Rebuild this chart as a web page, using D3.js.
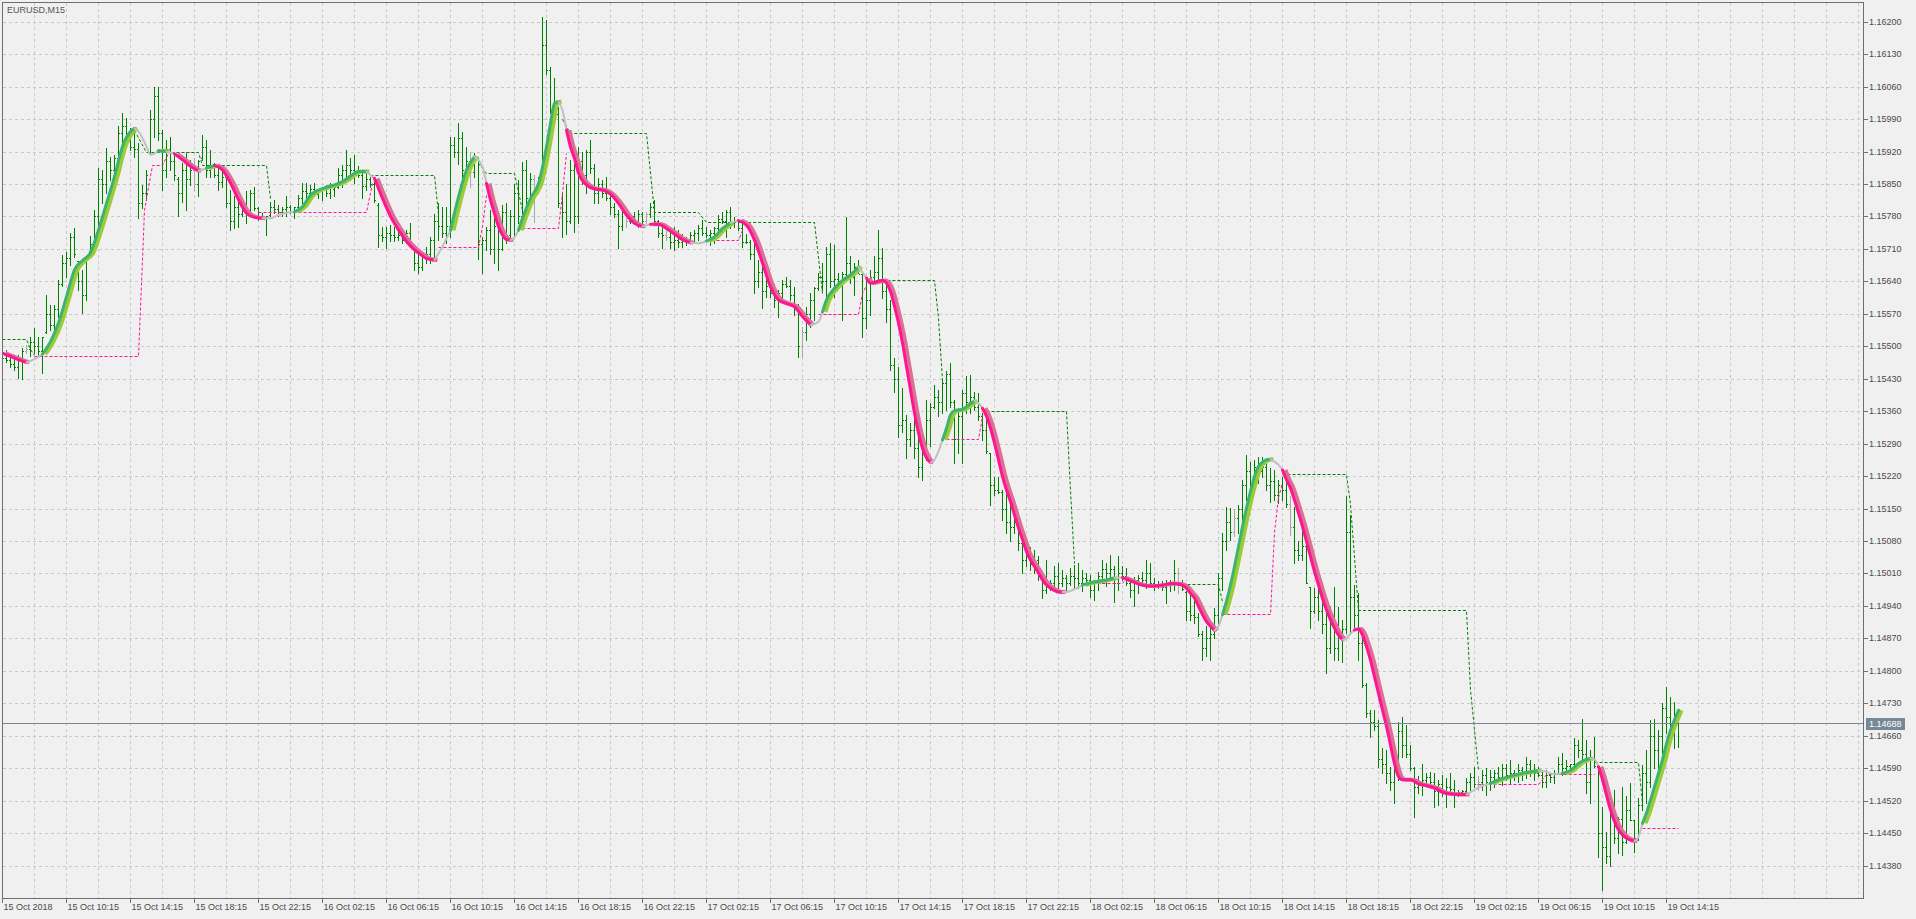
<!DOCTYPE html>
<html>
<head>
<meta charset="utf-8">
<title>EURUSD,M15</title>
<script src="https://cdn.jsdelivr.net/npm/d3@7/dist/d3.min.js"></script>
<style>
html,body{margin:0;padding:0;background:#f0f0f0;overflow:hidden;}
svg{display:block;}
</style>
</head>
<body>
<svg id="chart" width="1916" height="919"></svg>
<script>
const chartTitle = "EURUSD,M15";
const lastPrice = 1.14688;
const priceTicks = [1.14380,1.14450,1.14520,1.14590,1.14660,1.14730,1.14800,1.14870,1.14940,1.15010,1.15080,1.15150,1.15220,1.15290,1.15360,1.15430,1.15500,1.15570,1.15640,1.15710,1.15780,1.15850,1.15920,1.15990,1.16060,1.16130,1.16200];
const timeBars = [0,16,32,48,64,80,96,112,128,144,160,176,192,208,224,240,256,272,288,304,320,336,352,368,384,400,416];
const timeLabels = ["15 Oct 2018","15 Oct 10:15","15 Oct 14:15","15 Oct 18:15","15 Oct 22:15","16 Oct 02:15","16 Oct 06:15","16 Oct 10:15","16 Oct 14:15","16 Oct 18:15","16 Oct 22:15","17 Oct 02:15","17 Oct 06:15","17 Oct 10:15","17 Oct 14:15","17 Oct 18:15","17 Oct 22:15","18 Oct 02:15","18 Oct 06:15","18 Oct 10:15","18 Oct 14:15","18 Oct 18:15","18 Oct 22:15","19 Oct 02:15","19 Oct 06:15","19 Oct 10:15","19 Oct 14:15"];

const high = [
1.15488,1.15492,1.15481,1.15478,1.15481,1.15496,1.15503,1.15521,1.15539,1.15521,
1.15521,1.15611,1.15589,1.15589,1.15643,1.15697,1.15704,1.15744,1.15754,1.15683,
1.15665,1.15693,1.15737,1.15794,1.15884,1.15880,1.15927,1.15909,1.15913,1.15974,
1.16003,1.15992,1.15970,1.15967,1.15938,1.15848,1.15880,1.16010,1.16060,1.16060,
1.15967,1.15945,1.15952,1.15920,1.15866,1.15895,1.15916,1.15902,1.15905,1.15902,
1.15956,1.15945,1.15923,1.15895,1.15891,1.15880,1.15873,1.15837,1.15823,1.15823,
1.15808,1.15834,1.15837,1.15844,1.15801,1.15787,1.15780,1.15812,1.15816,1.15805,
1.15801,1.15823,1.15805,1.15801,1.15826,1.15852,1.15852,1.15848,1.15852,1.15837,
1.15844,1.15848,1.15852,1.15844,1.15884,1.15891,1.15923,1.15905,1.15913,1.15888,
1.15880,1.15880,1.15866,1.15866,1.15808,1.15758,1.15758,1.15762,1.15758,1.15751,
1.15751,1.15751,1.15765,1.15715,1.15708,1.15704,1.15715,1.15736,1.15786,1.15808,
1.15801,1.15801,1.15952,1.15952,1.15981,1.15963,1.15930,1.15919,1.15916,1.15909,
1.15736,1.15758,1.15794,1.15779,1.15772,1.15804,1.15808,1.15794,1.15851,1.15858,
1.15898,1.15901,1.15873,1.15869,1.15866,1.16211,1.16203,1.16103,1.16078,1.16017,
1.15830,1.15851,1.15901,1.15894,1.15930,1.15919,1.15923,1.15945,1.15894,1.15862,
1.15858,1.15866,1.15830,1.15808,1.15794,1.15808,1.15794,1.15786,1.15790,1.15794,
1.15790,1.15790,1.15808,1.15815,1.15772,1.15765,1.15758,1.15758,1.15758,1.15750,
1.15743,1.15736,1.15747,1.15750,1.15761,1.15772,1.15758,1.15750,1.15758,1.15783,
1.15790,1.15794,1.15801,1.15779,1.15772,1.15765,1.15743,1.15729,1.15722,1.15686,
1.15679,1.15679,1.15650,1.15635,1.15621,1.15643,1.15650,1.15643,1.15628,1.15592,
1.15542,1.15585,1.15614,1.15628,1.15657,1.15679,1.15715,1.15722,1.15718,1.15657,
1.15660,1.15778,1.15694,1.15679,1.15686,1.15658,1.15643,1.15665,1.15694,1.15751,
1.15712,1.15636,1.15600,1.15474,1.15456,1.15410,1.15352,1.15334,1.15356,1.15341,
1.15320,1.15384,1.15377,1.15417,1.15406,1.15428,1.15446,1.15464,1.15384,1.15363,
1.15406,1.15435,1.15438,1.15402,1.15399,1.15356,1.15349,1.15269,1.15219,1.15219,
1.15190,1.15219,1.15183,1.15147,1.15140,1.15082,1.15068,1.15068,1.15061,1.15047,
1.15011,1.15039,1.14996,1.15025,1.15032,1.15018,1.15007,1.15021,1.15029,1.15032,
1.15018,1.15011,1.15007,1.14996,1.15014,1.15039,1.15032,1.15050,1.15025,1.15047,
1.15025,1.15021,1.14996,1.15003,1.15007,1.15014,1.15039,1.15032,1.15000,1.14993,
1.14993,1.14996,1.14996,1.15039,1.15021,1.14996,1.14971,1.14967,1.14960,1.14924,
1.14885,1.14896,1.14903,1.14935,1.15011,1.15097,1.15154,1.15151,1.15147,1.15158,
1.15212,1.15266,1.15251,1.15255,1.15262,1.15262,1.15255,1.15237,1.15233,1.15212,
1.15219,1.15226,1.15176,1.15154,1.15079,1.15104,1.15082,1.14981,1.14978,1.14996,
1.14967,1.14953,1.14938,1.14981,1.14938,1.14910,1.15176,1.15136,1.14985,1.14967,
1.14874,1.14773,1.14716,1.14716,1.14694,1.14633,1.14629,1.14593,1.14622,1.14690,
1.14701,1.14683,1.14640,1.14593,1.14572,1.14600,1.14579,1.14582,1.14579,1.14564,
1.14575,1.14568,1.14579,1.14564,1.14543,1.14543,1.14568,1.14579,1.14593,1.14572,
1.14586,1.14590,1.14586,1.14586,1.14593,1.14600,1.14600,1.14608,1.14586,1.14600,
1.14593,1.14615,1.14608,1.14600,1.14593,1.14586,1.14586,1.14579,1.14586,1.14615,
1.14622,1.14608,1.14600,1.14654,1.14651,1.14697,1.14651,1.14629,1.14658,1.14593,
1.14507,1.14453,1.14521,1.14543,1.14485,1.14550,1.14529,1.14557,1.14478,1.14525,
1.14597,1.14629,1.14694,1.14697,1.14672,1.14730,1.14766,1.14744,1.14733,1.14715];

const low = [
1.15463,1.15467,1.15456,1.15449,1.15431,1.15429,1.15485,1.15478,1.15485,1.15478,
1.15442,1.15528,1.15535,1.15528,1.15564,1.15629,1.15650,1.15675,1.15693,1.15621,
1.15571,1.15600,1.15704,1.15708,1.15751,1.15808,1.15830,1.15859,1.15859,1.15895,
1.15923,1.15931,1.15923,1.15909,1.15776,1.15798,1.15816,1.15916,1.15952,1.15945,
1.15837,1.15866,1.15880,1.15859,1.15780,1.15812,1.15794,1.15848,1.15837,1.15823,
1.15902,1.15866,1.15866,1.15866,1.15837,1.15844,1.15801,1.15751,1.15754,1.15758,
1.15780,1.15765,1.15780,1.15794,1.15772,1.15776,1.15740,1.15780,1.15787,1.15780,
1.15780,1.15780,1.15787,1.15776,1.15794,1.15808,1.15816,1.15816,1.15823,1.15819,
1.15816,1.15823,1.15819,1.15823,1.15841,1.15844,1.15859,1.15859,1.15852,1.15866,
1.15819,1.15837,1.15844,1.15812,1.15715,1.15726,1.15711,1.15726,1.15726,1.15729,
1.15722,1.15722,1.15715,1.15665,1.15657,1.15665,1.15679,1.15679,1.15686,1.15729,
1.15736,1.15722,1.15736,1.15909,1.15894,1.15866,1.15851,1.15844,1.15866,1.15689,
1.15657,1.15707,1.15700,1.15679,1.15664,1.15707,1.15722,1.15729,1.15736,1.15765,
1.15779,1.15794,1.15801,1.15768,1.15830,1.15866,1.16088,1.16002,1.15988,1.15801,
1.15736,1.15743,1.15765,1.15747,1.15765,1.15851,1.15830,1.15873,1.15808,1.15808,
1.15822,1.15815,1.15786,1.15779,1.15711,1.15750,1.15758,1.15765,1.15765,1.15758,
1.15765,1.15765,1.15779,1.15765,1.15736,1.15711,1.15729,1.15711,1.15707,1.15715,
1.15715,1.15718,1.15722,1.15722,1.15729,1.15740,1.15736,1.15718,1.15722,1.15750,
1.15765,1.15736,1.15754,1.15758,1.15750,1.15715,1.15722,1.15689,1.15614,1.15628,
1.15582,1.15607,1.15607,1.15585,1.15564,1.15600,1.15628,1.15600,1.15567,1.15477,
1.15477,1.15513,1.15542,1.15556,1.15621,1.15621,1.15607,1.15628,1.15607,1.15628,
1.15556,1.15650,1.15636,1.15611,1.15658,1.15521,1.15539,1.15568,1.15643,1.15636,
1.15604,1.15553,1.15449,1.15402,1.15305,1.15316,1.15259,1.15284,1.15259,1.15219,
1.15212,1.15255,1.15284,1.15366,1.15349,1.15356,1.15363,1.15370,1.15248,1.15269,
1.15248,1.15356,1.15356,1.15363,1.15341,1.15298,1.15269,1.15158,1.15180,1.15183,
1.15126,1.15097,1.15079,1.15097,1.15061,1.15011,1.15025,1.15018,1.15011,1.14996,
1.14957,1.14967,1.14975,1.14978,1.14971,1.14982,1.14975,1.14985,1.14978,1.14978,
1.14971,1.14989,1.14960,1.14953,1.14975,1.14989,1.14982,1.15003,1.14949,1.14975,
1.14996,1.14985,1.14960,1.14939,1.14967,1.14989,1.14978,1.14982,1.14975,1.14978,
1.14975,1.14946,1.14971,1.14975,1.14967,1.14975,1.14910,1.14910,1.14903,1.14874,
1.14824,1.14831,1.14824,1.14870,1.14896,1.14975,1.15061,1.15082,1.15090,1.15097,
1.15097,1.15169,1.15183,1.15183,1.15205,1.15219,1.15190,1.15165,1.15168,1.15161,
1.15168,1.15154,1.15093,1.15032,1.15039,1.15039,1.14989,1.14892,1.14924,1.14910,
1.14881,1.14795,1.14838,1.14823,1.14823,1.14820,1.14881,1.14881,1.14895,1.14823,
1.14766,1.14701,1.14658,1.14672,1.14593,1.14579,1.14557,1.14543,1.14514,1.14564,
1.14615,1.14615,1.14586,1.14485,1.14536,1.14532,1.14557,1.14550,1.14507,1.14511,
1.14529,1.14507,1.14536,1.14507,1.14529,1.14532,1.14532,1.14543,1.14550,1.14543,
1.14543,1.14532,1.14543,1.14550,1.14561,1.14554,1.14564,1.14557,1.14564,1.14561,
1.14564,1.14568,1.14572,1.14564,1.14572,1.14550,1.14550,1.14561,1.14557,1.14579,
1.14575,1.14579,1.14579,1.14593,1.14615,1.14600,1.14536,1.14514,1.14593,1.14399,
1.14327,1.14385,1.14378,1.14428,1.14406,1.14403,1.14428,1.14478,1.14410,1.14435,
1.14500,1.14514,1.14550,1.14590,1.14586,1.14622,1.14665,1.14651,1.14633,1.14636];

const open = [
1.15470,1.15475,1.15470,1.15462,1.15455,1.15470,1.15490,1.15495,1.15510,1.15500,
1.15490,1.15530,1.15570,1.15545,1.15580,1.15635,1.15680,1.15690,1.15735,1.15683,
1.15640,1.15610,1.15705,1.15720,1.15780,1.15860,1.15850,1.15900,1.15880,1.15905,
1.15960,1.15975,1.15950,1.15930,1.15925,1.15810,1.15830,1.15920,1.15990,1.16040,
1.15960,1.15880,1.15925,1.15900,1.15860,1.15830,1.15880,1.15860,1.15880,1.15850,
1.15905,1.15930,1.15880,1.15890,1.15870,1.15855,1.15865,1.15810,1.15770,1.15800,
1.15785,1.15800,1.15790,1.15830,1.15798,1.15780,1.15778,1.15782,1.15800,1.15795,
1.15790,1.15795,1.15800,1.15790,1.15800,1.15820,1.15835,1.15830,1.15840,1.15828,
1.15835,1.15840,1.15830,1.15840,1.15843,1.15870,1.15880,1.15890,1.15880,1.15875,
1.15870,1.15845,1.15860,1.15850,1.15805,1.15740,1.15735,1.15745,1.15740,1.15735,
1.15740,1.15730,1.15745,1.15712,1.15680,1.15670,1.15695,1.15700,1.15730,1.15770,
1.15760,1.15745,1.15760,1.15935,1.15920,1.15950,1.15880,1.15900,1.15875,1.15905,
1.15720,1.15730,1.15750,1.15710,1.15760,1.15710,1.15790,1.15740,1.15780,1.15830,
1.15780,1.15880,1.15820,1.15860,1.15840,1.15870,1.16150,1.16095,1.16010,1.16000,
1.15810,1.15790,1.15770,1.15880,1.15780,1.15900,1.15870,1.15920,1.15885,1.15830,
1.15850,1.15830,1.15820,1.15800,1.15785,1.15760,1.15790,1.15770,1.15780,1.15770,
1.15785,1.15770,1.15785,1.15800,1.15770,1.15745,1.15740,1.15735,1.15725,1.15730,
1.15725,1.15730,1.15728,1.15740,1.15745,1.15755,1.15745,1.15740,1.15745,1.15755,
1.15775,1.15770,1.15790,1.15765,1.15770,1.15755,1.15725,1.15725,1.15700,1.15640,
1.15660,1.15620,1.15630,1.15615,1.15600,1.15615,1.15635,1.15630,1.15610,1.15580,
1.15500,1.15530,1.15570,1.15600,1.15625,1.15650,1.15640,1.15700,1.15640,1.15645,
1.15640,1.15655,1.15680,1.15650,1.15670,1.15655,1.15560,1.15600,1.15650,1.15660,
1.15690,1.15620,1.15580,1.15460,1.15430,1.15330,1.15340,1.15300,1.15320,1.15280,
1.15240,1.15290,1.15340,1.15370,1.15390,1.15380,1.15420,1.15440,1.15380,1.15300,
1.15350,1.15400,1.15380,1.15390,1.15370,1.15350,1.15320,1.15269,1.15200,1.15190,
1.15185,1.15150,1.15120,1.15110,1.15120,1.15075,1.15040,1.15050,1.15030,1.15040,
1.15005,1.14975,1.14985,1.14990,1.15005,1.14990,1.15000,1.14990,1.15005,1.15000,
1.14990,1.15000,1.14995,1.14975,1.14990,1.15005,1.15020,1.15010,1.15020,1.14990,
1.15010,1.15005,1.14990,1.14975,1.14995,1.15000,1.14995,1.15010,1.14990,1.14985,
1.14985,1.14980,1.14985,1.14990,1.15010,1.14985,1.14970,1.14930,1.14920,1.14915,
1.14880,1.14850,1.14870,1.14880,1.14920,1.15000,1.15080,1.15120,1.15100,1.15130,
1.15150,1.15200,1.15230,1.15200,1.15240,1.15230,1.15240,1.15200,1.15210,1.15180,
1.15200,1.15190,1.15160,1.15110,1.15060,1.15050,1.15070,1.14981,1.14930,1.14960,
1.14930,1.14900,1.14850,1.14900,1.14850,1.14880,1.14890,1.15100,1.14960,1.14920,
1.14860,1.14770,1.14710,1.14690,1.14680,1.14610,1.14600,1.14580,1.14560,1.14600,
1.14670,1.14640,1.14620,1.14590,1.14550,1.14560,1.14565,1.14570,1.14560,1.14540,
1.14555,1.14540,1.14550,1.14545,1.14535,1.14538,1.14540,1.14560,1.14570,1.14555,
1.14560,1.14575,1.14560,1.14570,1.14580,1.14570,1.14590,1.14575,1.14580,1.14575,
1.14585,1.14580,1.14600,1.14585,1.14580,1.14575,1.14560,1.14575,1.14570,1.14580,
1.14600,1.14590,1.14595,1.14598,1.14640,1.14630,1.14620,1.14560,1.14610,1.14592,
1.14450,1.14420,1.14400,1.14500,1.14440,1.14480,1.14430,1.14500,1.14478,1.14440,
1.14510,1.14580,1.14560,1.14660,1.14630,1.14660,1.14720,1.14700,1.14680,1.14700];

const close = [
1.15475,1.15470,1.15462,1.15455,1.15470,1.15490,1.15495,1.15510,1.15500,1.15490,
1.15520,1.15570,1.15545,1.15580,1.15635,1.15680,1.15690,1.15735,1.15700,1.15640,
1.15610,1.15690,1.15720,1.15780,1.15860,1.15850,1.15900,1.15880,1.15905,1.15960,
1.15975,1.15950,1.15930,1.15925,1.15810,1.15830,1.15870,1.15990,1.16040,1.15960,
1.15880,1.15925,1.15900,1.15870,1.15830,1.15880,1.15860,1.15880,1.15850,1.15900,
1.15930,1.15880,1.15890,1.15870,1.15855,1.15865,1.15810,1.15770,1.15800,1.15785,
1.15800,1.15790,1.15830,1.15798,1.15780,1.15778,1.15780,1.15800,1.15795,1.15790,
1.15795,1.15800,1.15790,1.15800,1.15820,1.15835,1.15830,1.15840,1.15828,1.15835,
1.15840,1.15830,1.15845,1.15843,1.15870,1.15880,1.15890,1.15880,1.15875,1.15870,
1.15845,1.15860,1.15850,1.15815,1.15740,1.15735,1.15745,1.15740,1.15735,1.15740,
1.15730,1.15745,1.15715,1.15680,1.15670,1.15695,1.15700,1.15730,1.15770,1.15760,
1.15745,1.15760,1.15935,1.15920,1.15950,1.15880,1.15900,1.15875,1.15905,1.15720,
1.15730,1.15750,1.15710,1.15760,1.15710,1.15790,1.15740,1.15780,1.15830,1.15780,
1.15880,1.15820,1.15860,1.15840,1.15860,1.16150,1.16095,1.16010,1.16000,1.15810,
1.15790,1.15770,1.15880,1.15780,1.15900,1.15870,1.15920,1.15885,1.15830,1.15850,
1.15830,1.15820,1.15800,1.15785,1.15760,1.15790,1.15770,1.15780,1.15770,1.15785,
1.15770,1.15785,1.15800,1.15770,1.15745,1.15740,1.15735,1.15725,1.15730,1.15725,
1.15730,1.15728,1.15740,1.15745,1.15755,1.15745,1.15740,1.15745,1.15755,1.15775,
1.15770,1.15790,1.15765,1.15770,1.15755,1.15725,1.15725,1.15700,1.15640,1.15660,
1.15620,1.15630,1.15615,1.15600,1.15615,1.15635,1.15630,1.15610,1.15580,1.15500,
1.15530,1.15570,1.15600,1.15625,1.15650,1.15640,1.15700,1.15640,1.15645,1.15640,
1.15655,1.15680,1.15650,1.15670,1.15655,1.15560,1.15600,1.15650,1.15660,1.15690,
1.15620,1.15580,1.15460,1.15430,1.15330,1.15340,1.15300,1.15320,1.15280,1.15240,
1.15290,1.15340,1.15370,1.15390,1.15380,1.15420,1.15440,1.15380,1.15300,1.15350,
1.15400,1.15380,1.15390,1.15370,1.15350,1.15320,1.15275,1.15200,1.15190,1.15185,
1.15150,1.15120,1.15110,1.15120,1.15075,1.15040,1.15050,1.15030,1.15040,1.15005,
1.14975,1.14985,1.14990,1.15005,1.14990,1.15000,1.14990,1.15005,1.15000,1.14990,
1.15000,1.14995,1.14975,1.14990,1.15005,1.15020,1.15010,1.15020,1.14990,1.15010,
1.15005,1.14990,1.14975,1.14995,1.15000,1.14995,1.15010,1.14990,1.14985,1.14985,
1.14980,1.14985,1.14990,1.15010,1.14985,1.14976,1.14930,1.14920,1.14915,1.14880,
1.14850,1.14870,1.14880,1.14920,1.15000,1.15080,1.15120,1.15100,1.15130,1.15150,
1.15200,1.15230,1.15200,1.15240,1.15230,1.15240,1.15200,1.15210,1.15180,1.15200,
1.15190,1.15160,1.15110,1.15060,1.15050,1.15070,1.14990,1.14930,1.14960,1.14930,
1.14900,1.14850,1.14900,1.14850,1.14880,1.14890,1.15100,1.14960,1.14920,1.14860,
1.14770,1.14710,1.14690,1.14680,1.14610,1.14600,1.14580,1.14560,1.14600,1.14670,
1.14640,1.14620,1.14590,1.14550,1.14560,1.14565,1.14570,1.14560,1.14540,1.14555,
1.14540,1.14550,1.14545,1.14535,1.14538,1.14540,1.14560,1.14570,1.14555,1.14560,
1.14575,1.14560,1.14570,1.14580,1.14570,1.14590,1.14575,1.14580,1.14575,1.14585,
1.14580,1.14600,1.14585,1.14580,1.14575,1.14560,1.14575,1.14570,1.14580,1.14600,
1.14590,1.14595,1.14598,1.14640,1.14630,1.14620,1.14560,1.14610,1.14595,1.14450,
1.14420,1.14400,1.14500,1.14440,1.14480,1.14430,1.14500,1.14478,1.14440,1.14510,
1.14580,1.14560,1.14660,1.14630,1.14660,1.14720,1.14700,1.14680,1.14700,1.14688];

const grayBars = [6,48,117,133,156,161,166,200,294,308,322,369];

// smoothed trend line: [bar, price, trend] (u = up, d = down, n = neutral)
const maLine = [
[0,1.15485,"d"],[2,1.15478,"d"],[4,1.15471,"d"],[6,1.15465,"n"],[8,1.15472,"n"],[10,1.15483,"u"],[12,1.15510,"u"],[14,1.15550,"u"],[16,1.15607,"u"],[18,1.15665,"u"],
[20,1.15685,"u"],[22,1.15702,"u"],[24,1.15751,"u"],[26,1.15808,"u"],[28,1.15866,"u"],[30,1.15931,"u"],[32,1.15963,"u"],[33,1.15970,"n"],[34,1.15963,"n"],[36,1.15931,"n"],
[37,1.15913,"n"],[39,1.15922,"u"],[41,1.15920,"n"],[43,1.15915,"d"],[45,1.15902,"d"],[47,1.15888,"d"],[49,1.15878,"n"],[51,1.15884,"u"],[53,1.15890,"d"],[55,1.15880,"d"],
[57,1.15852,"d"],[59,1.15816,"d"],[61,1.15787,"d"],[63,1.15778,"d"],[65,1.15776,"n"],[67,1.15776,"n"],[69,1.15783,"n"],[71,1.15788,"n"],[73,1.15790,"u"],[75,1.15801,"u"],
[77,1.15826,"u"],[79,1.15837,"u"],[81,1.15843,"u"],[83,1.15848,"u"],[85,1.15855,"u"],[87,1.15867,"u"],[89,1.15877,"u"],[91,1.15877,"n"],[93,1.15862,"d"],[95,1.15819,"d"],
[97,1.15780,"d"],[99,1.15751,"d"],[101,1.15726,"d"],[103,1.15708,"d"],[105,1.15695,"d"],[106,1.15689,"d"],[108,1.15686,"n"],[110,1.15715,"n"],[112,1.15750,"u"],[114,1.15822,"u"],
[116,1.15880,"u"],[118,1.15909,"n"],[120,1.15887,"n"],[121,1.15851,"d"],[122,1.15815,"d"],[123,1.15786,"d"],[124,1.15758,"d"],[125,1.15740,"d"],[126,1.15730,"d"],[127,1.15729,"n"],
[128,1.15735,"n"],[129,1.15750,"u"],[130,1.15776,"u"],[132,1.15819,"u"],[134,1.15851,"u"],[136,1.15930,"u"],[137,1.15981,"u"],[138,1.16024,"u"],[139,1.16028,"n"],[140,1.16009,"n"],
[141,1.15966,"d"],[142,1.15930,"d"],[143,1.15905,"d"],[144,1.15873,"d"],[146,1.15848,"d"],[148,1.15839,"d"],[150,1.15837,"d"],[152,1.15828,"d"],[154,1.15808,"d"],[156,1.15783,"d"],
[158,1.15765,"d"],[160,1.15758,"n"],[162,1.15763,"d"],[164,1.15763,"d"],[166,1.15754,"d"],[168,1.15742,"d"],[170,1.15730,"d"],[172,1.15723,"n"],[174,1.15722,"n"],[176,1.15727,"u"],
[178,1.15736,"u"],[180,1.15754,"u"],[182,1.15766,"n"],[184,1.15771,"d"],[186,1.15761,"d"],[188,1.15729,"d"],[190,1.15679,"d"],[192,1.15628,"d"],[194,1.15600,"d"],[196,1.15592,"d"],
[198,1.15585,"d"],[200,1.15564,"d"],[202,1.15546,"n"],[204,1.15553,"n"],[205,1.15574,"u"],[206,1.15600,"u"],[208,1.15625,"u"],[210,1.15642,"u"],[212,1.15654,"u"],[214,1.15671,"n"],
[216,1.15647,"d"],[217,1.15636,"d"],[218,1.15638,"d"],[220,1.15642,"d"],[221,1.15636,"d"],[222,1.15618,"d"],[223,1.15586,"d"],[224,1.15550,"d"],[225,1.15507,"d"],[226,1.15456,"d"],
[227,1.15406,"d"],[228,1.15356,"d"],[229,1.15313,"d"],[230,1.15280,"d"],[231,1.15259,"d"],[232,1.15249,"n"],[233,1.15255,"n"],[234,1.15273,"n"],[235,1.15298,"u"],[236,1.15323,"u"],
[237,1.15352,"u"],[238,1.15361,"u"],[240,1.15364,"u"],[242,1.15376,"u"],[243,1.15382,"n"],[244,1.15377,"n"],[245,1.15366,"d"],[246,1.15349,"d"],[247,1.15323,"d"],[248,1.15291,"d"],
[249,1.15255,"d"],[250,1.15219,"d"],[251,1.15190,"d"],[252,1.15165,"d"],[253,1.15136,"d"],[254,1.15108,"d"],[255,1.15083,"d"],[256,1.15057,"d"],[257,1.15039,"d"],[258,1.15025,"d"],
[259,1.15011,"d"],[260,1.14996,"d"],[261,1.14985,"d"],[262,1.14978,"d"],[263,1.14973,"d"],[264,1.14970,"d"],[265,1.14970,"n"],[266,1.14970,"n"],[268,1.14976,"n"],[270,1.14985,"u"],
[272,1.14990,"u"],[274,1.14993,"u"],[276,1.14996,"u"],[278,1.15000,"n"],[280,1.15001,"d"],[282,1.14994,"d"],[284,1.14987,"d"],[286,1.14983,"d"],[288,1.14983,"d"],[290,1.14985,"d"],
[292,1.14988,"d"],[294,1.14987,"d"],[296,1.14978,"d"],[297,1.14967,"d"],[298,1.14957,"d"],[299,1.14939,"d"],[300,1.14921,"d"],[301,1.14906,"d"],[302,1.14896,"d"],[303,1.14887,"n"],
[304,1.14896,"n"],[305,1.14921,"u"],[306,1.14950,"u"],[307,1.14985,"u"],[308,1.15025,"u"],[309,1.15068,"u"],[310,1.15111,"u"],[311,1.15151,"u"],[312,1.15187,"u"],[313,1.15219,"u"],
[314,1.15241,"u"],[315,1.15250,"u"],[316,1.15255,"u"],[317,1.15256,"n"],[318,1.15251,"n"],[319,1.15244,"n"],[320,1.15233,"d"],[321,1.15212,"d"],[322,1.15194,"d"],[323,1.15168,"d"],
[324,1.15140,"d"],[325,1.15111,"d"],[326,1.15079,"d"],[327,1.15046,"d"],[328,1.15014,"d"],[329,1.14985,"d"],[330,1.14956,"d"],[331,1.14931,"d"],[332,1.14910,"d"],[333,1.14892,"d"],
[334,1.14877,"d"],[335,1.14867,"n"],[336,1.14870,"n"],[337,1.14880,"n"],[338,1.14888,"d"],[339,1.14890,"d"],[340,1.14877,"d"],[341,1.14852,"d"],[342,1.14823,"d"],[343,1.14787,"d"],
[344,1.14751,"d"],[345,1.14715,"d"],[346,1.14680,"d"],[347,1.14640,"d"],[348,1.14600,"d"],[349,1.14572,"d"],[350,1.14565,"d"],[352,1.14565,"d"],[354,1.14556,"d"],[356,1.14552,"d"],
[358,1.14547,"d"],[360,1.14538,"d"],[362,1.14534,"d"],[364,1.14533,"d"],[366,1.14533,"n"],[368,1.14543,"n"],[370,1.14552,"n"],[372,1.14557,"u"],[374,1.14565,"u"],[376,1.14570,"u"],
[378,1.14575,"u"],[380,1.14579,"u"],[382,1.14582,"u"],[384,1.14585,"n"],[386,1.14582,"n"],[388,1.14577,"n"],[390,1.14579,"u"],[392,1.14585,"u"],[394,1.14600,"u"],[396,1.14609,"u"],
[397,1.14611,"n"],[398,1.14609,"n"],[399,1.14593,"d"],[400,1.14565,"d"],[401,1.14532,"d"],[402,1.14500,"d"],[403,1.14475,"d"],[404,1.14457,"d"],[405,1.14446,"d"],[406,1.14439,"d"],
[407,1.14435,"d"],[408,1.14432,"n"],[409,1.14442,"n"],[410,1.14471,"u"],[411,1.14493,"u"],[412,1.14521,"u"],[413,1.14550,"u"],[414,1.14579,"u"],[415,1.14608,"u"],[416,1.14643,"u"],
[417,1.14672,"u"],[418,1.14694,"u"],[419,1.14715,"u"]];

// upper (green) and lower (pink) stop levels: [bar, price]
const greenStop = [
[[0,1.15516],[6,1.15516],[7,1.15495],[8,1.15482]],
[[33,1.15967],[36,1.15920],[49,1.15920],[50,1.15891],[66,1.15891],[67,1.15819]],
[[92,1.15870],[108,1.15870],[109,1.15786]],
[[119,1.15895],[121,1.15873],[128,1.15873],[130,1.15794]],
[[140,1.15990],[142,1.15961],[161,1.15961],[163,1.15789],[174,1.15789],[176,1.15768],[203,1.15768],[205,1.15614]],
[[220,1.15643],[233,1.15643],[234,1.15560],[235,1.15428]],
[[246,1.15361],[266,1.15361],[267,1.15190],[268,1.15032]],
[[295,1.14988],[304,1.14988],[305,1.14950]],
[[320,1.15225],[336,1.15225],[337,1.15160],[339,1.14931],[366,1.14931],[367,1.14760],[369,1.14586]],
[[398,1.14603],[409,1.14603],[410,1.14514]]];

const pinkStop = [
[[8,1.15478],[34,1.15478],[35.5,1.15794],[36.5,1.15844],[37.5,1.15891],[40,1.15891],[41.5,1.15916]],
[[64,1.15790],[91,1.15790],[92.5,1.15852]],
[[109,1.15713],[119,1.15713],[120,1.15760],[121,1.15826]],
[[130,1.15756],[139,1.15756],[140,1.15830],[141,1.15916]],
[[176,1.15729],[184,1.15729],[185,1.15750]],
[[204,1.15569],[214,1.15569],[215,1.15614],[216,1.15633]],
[[236,1.15300],[244,1.15300],[245,1.15349]],
[[270,1.14989],[280,1.14989],[281,1.15000]],
[[305,1.14922],[317,1.14922],[318,1.15100],[319,1.15175],[320,1.15204]],
[[369,1.14556],[384,1.14556],[386,1.14577],[398,1.14577]],
[[410,1.14460],[419,1.14460]]];

// ---------- drawing ----------
const FONT = '"Liberation Sans", Arial, sans-serif';
const svg = d3.select("#chart");
const PL = 2, PT = 2, PR = 1863, PB = 898;

const xs = d3.scaleLinear().domain([0, 419]).range([2, 1678]);
const ys = d3.scaleLinear().domain([1.14380, 1.16200]).range([865.5, 21.7]);
const ysR = ys.copy().interpolate(d3.interpolateRound);

svg.append("rect").attr("width", 1916).attr("height", 919).attr("fill", "#f0f0f0");

svg.append("defs").append("clipPath").attr("id", "plotclip")
  .append("rect").attr("x", PL + 1).attr("y", PT + 1).attr("width", PR - PL - 1).attr("height", PB - PT - 1);

// grid
const grid = svg.append("g").attr("stroke", "#c9c9c9").attr("stroke-dasharray", "3,3")
  .attr("shape-rendering", "crispEdges");
priceTicks.forEach(p => {
  const yy = ysR(p) + 0.5;
  grid.append("line").attr("x1", PL + 1).attr("x2", PR).attr("y1", yy).attr("y2", yy);
});
d3.range(8, 465, 8).forEach(b => {
  const xx = xs(b) + 0.5;
  grid.append("line").attr("x1", xx).attr("x2", xx).attr("y1", PT + 1).attr("y2", PB);
});

const plotG = svg.append("g").attr("clip-path", "url(#plotclip)");

// bars
const barsG = plotG.append("g").attr("shape-rendering", "crispEdges");
high.forEach((h, i) => {
  const col = grayBars.includes(i) ? "#a8a8a8" : "#008000";
  const x0 = xs(i);
  const yh = ysR(h), yl = ysR(low[i]);
  barsG.append("rect").attr("x", x0).attr("y", yh).attr("width", 1).attr("height", Math.max(1, yl - yh + 1)).attr("fill", col);
  barsG.append("rect").attr("x", x0 - 1).attr("y", ysR(open[i])).attr("width", 1).attr("height", 1).attr("fill", col);
  barsG.append("rect").attr("x", x0 + 1).attr("y", ysR(close[i])).attr("width", 1).attr("height", 1).attr("fill", col);
});

// stop lines
const stopLine = d3.line().x(d => xs(d[0]) + 0.5).y(d => ysR(d[1]) + 0.5);
greenStop.forEach(seg => plotG.append("path").attr("d", stopLine(seg)).attr("fill", "none")
  .attr("stroke", "#008000").attr("stroke-width", 1).attr("stroke-dasharray", "3,2"));
pinkStop.forEach(seg => plotG.append("path").attr("d", stopLine(seg)).attr("fill", "none")
  .attr("stroke", "#ff1493").attr("stroke-width", 1).attr("stroke-dasharray", "3,2"));

// smoothed trend line with band
const pts = maLine.map(d => ({ x: xs(d[0]) + 0.5, y: ys(d[1]), s: d[2] }));
const runs = [];
let k0 = 0;
for (let k = 1; k < pts.length - 1; k++) {
  if (pts[k].s !== pts[k0].s) { runs.push({ s: pts[k0].s, p: pts.slice(k0, k + 1) }); k0 = k; }
}
runs.push({ s: pts[k0].s, p: pts.slice(k0) });
const mainCol = { u: "#3cb371", d: "#ff1493", n: "#c0c0c0" };
const bandCol = { u: "#9acd32", d: "#db7093" };
const curveMain = d3.line().x(d => d.x).y(d => d.y).curve(d3.curveMonotoneX);
const curveBand = d3.line().x(d => d.x + 3).y(d => d.y).curve(d3.curveMonotoneX);
runs.filter(r => r.s !== "n").forEach(r => plotG.append("path").attr("d", curveBand(r.p))
  .attr("fill", "none").attr("stroke", bandCol[r.s]).attr("stroke-width", 4));
runs.forEach(r => plotG.append("path").attr("d", curveMain(r.p))
  .attr("fill", "none").attr("stroke", mainCol[r.s]).attr("stroke-width", r.s === "n" ? 2 : 3)
  .attr("stroke-linecap", "round"));

// current price line
const yLast = ysR(lastPrice) + 0.5;
svg.append("line").attr("x1", PL + 1).attr("x2", PR).attr("y1", yLast).attr("y2", yLast)
  .attr("stroke", "#778899").attr("shape-rendering", "crispEdges");

// border
svg.append("rect").attr("x", PL + 0.5).attr("y", PT + 0.5).attr("width", PR - PL).attr("height", PB - PT)
  .attr("fill", "none").attr("stroke", "#6e6e6e").attr("shape-rendering", "crispEdges");

// right axis
const yAxis = d3.axisRight(ysR).tickValues(priceTicks).tickSize(5).tickPadding(1).tickFormat(d3.format(".5f"));
const yg = svg.append("g").attr("transform", `translate(${PR},0)`).call(yAxis);
yg.select(".domain").remove();
yg.attr("font-family", FONT).attr("font-size", 9);
yg.selectAll(".tick line").attr("stroke", "#6e6e6e").attr("shape-rendering", "crispEdges");
yg.selectAll(".tick text").attr("fill", "#4a4a4a");

// last price label
svg.append("rect").attr("x", 1866).attr("y", yLast - 5.5).attr("width", 39).attr("height", 12).attr("fill", "#778899");
svg.append("text").attr("x", 1869).attr("y", yLast + 3.5).attr("font-family", FONT).attr("font-size", 9)
  .attr("fill", "#ffffff").text(d3.format(".5f")(lastPrice));

// bottom axis
const xAxis = d3.axisBottom(xs).tickValues(timeBars).tickSize(5).tickPadding(1)
  .tickFormat((d, i) => timeLabels[i]);
const xg = svg.append("g").attr("transform", `translate(0,${PB})`).call(xAxis);
xg.select(".domain").remove();
xg.attr("font-family", FONT).attr("font-size", 9);
xg.selectAll(".tick line").attr("stroke", "#6e6e6e").attr("shape-rendering", "crispEdges");
xg.selectAll(".tick text").attr("fill", "#4a4a4a").attr("text-anchor", "start").attr("x", 1);

// title
svg.append("text").attr("x", 7).attr("y", 13).attr("font-family", FONT).attr("font-size", 9)
  .attr("fill", "#555555").text(chartTitle);
</script>
</body>
</html>
